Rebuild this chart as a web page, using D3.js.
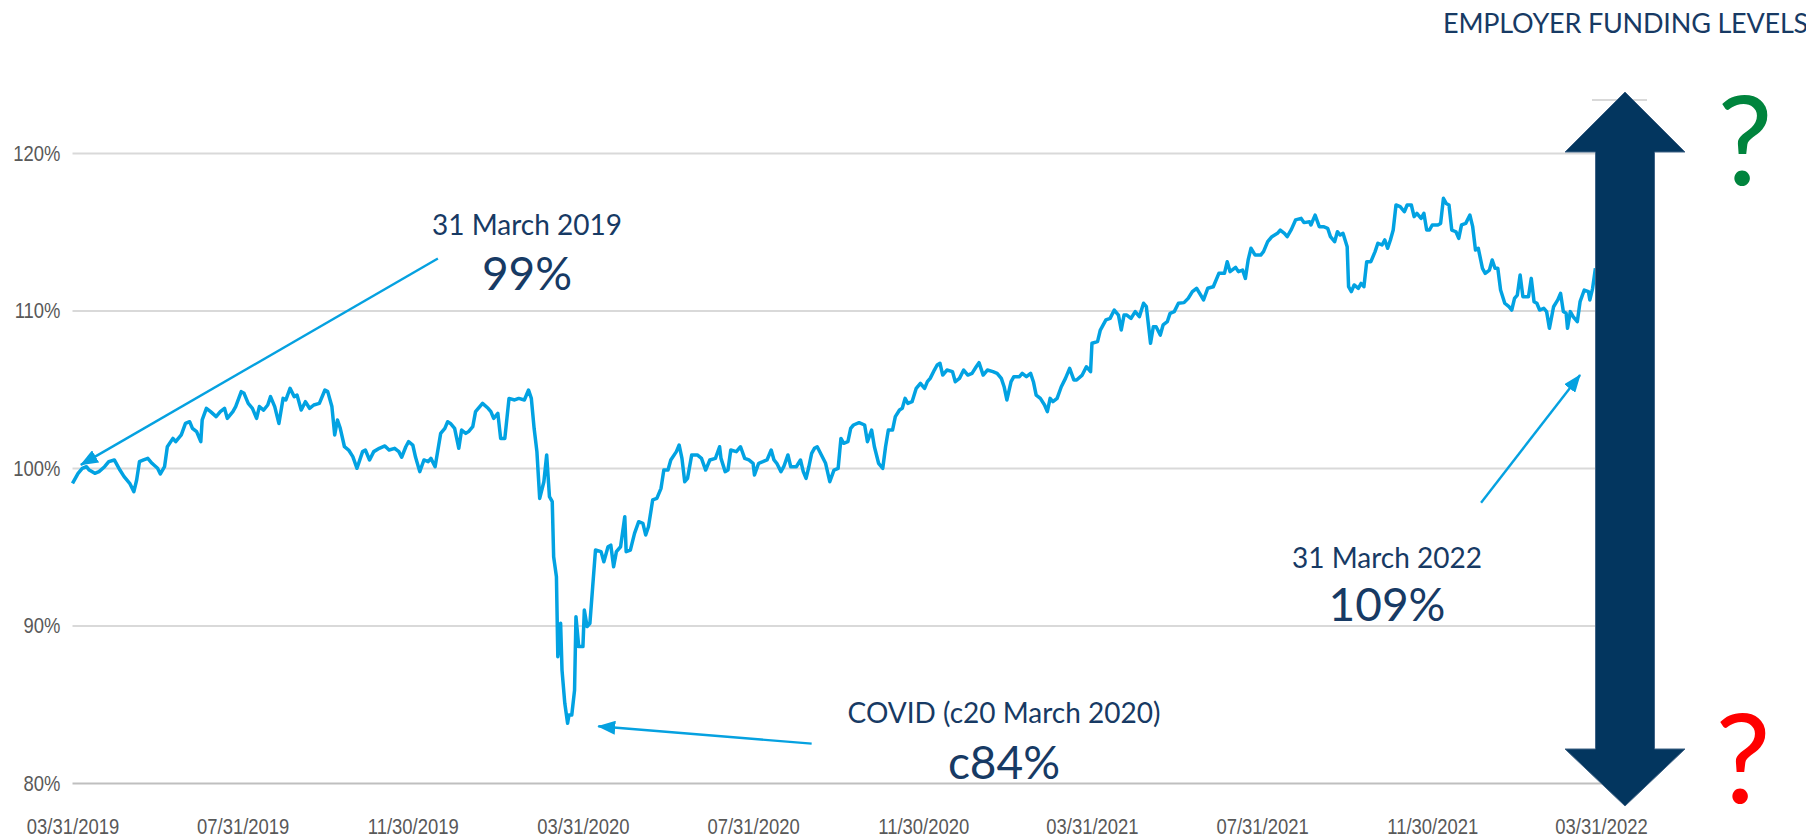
<!DOCTYPE html>
<meta charset="utf-8">
<style>
    body { margin: 0; background: #fff; }
    svg { display: block; }
    .axis text {
        font-family: 'Liberation Sans', Arial, sans-serif;
        font-size: 22.5px;
        fill: #595959;
    }
    .grid line { stroke: #d9d9d9; stroke-width: 2px; }
    .note { font-family: Lato, 'Open Sans', sans-serif; fill: #173a64; }
</style>
<body>
<script src="https://d3js.org/d3.v7.min.js"></script>
<script>
    // days since 31 March 2019
    var dayOffsets = [0,4,7,10,12,16,19,23,26,30,34,37,41,44,46,48,51,54,57,61,63,66,68,72,74,78,81,84,86,89,92,93,96,99,103,106,109,111,115,117,121,123,126,129,132,134,137,140,142,145,148,151,153,156,159,161,164,167,170,173,177,181,183,186,188,190,192,195,198,201,204,208,210,213,216,220,224,227,231,234,236,239,241,244,246,249,252,255,257,260,264,267,269,271,274,277,279,282,284,287,289,
        294,298,300,302,305,307,310,313,317,320,324,327,329,331,333,335,338,340,342,344,345,347,348,350,351,353,355,356,358,360,361,363,366,367,369,371,373,375,379,381,384,386,388,390,393,396,397,400,403,406,409,411,413,416,419,422,424,427,429,433,435,437,439,441,444,448,451,454,457,461,464,
        465,468,470,472,476,479,482,485,488,489,492,495,498,501,503,505,508,510,513,515,519,522,524,526,528,530,532,534,537,540,543,546,549,551,553,556,558,560,564,568,570,573,575,578,581,583,585,588,590,593,595,597,599,602,605,608,611,613,615,618,620,622,624,627,631,633,636,639,642,645,648,650,653,656,660,663,666,668,670,673,675,679,681,684,687,689,691,694,697,699,701,703,706,709,712,715,718,720,724,727,730,731,735,737,741,744,747,750,752,
        754,756,759,762,765,768,770,773,775,777,780,782,785,787,790,793,797,800,803,806,809,811,814,818,822,826,828,830,834,836,839,841,843,845,848,852,854,857,860,864,866,869,871,874,877,881,883,887,888,891,894,897,900,902,905,907,909,911,914,915,917,919,922,924,926,928,931,934,936,939,941,943,945,947,949,952,955,957,960,962,964,967,969,971,973,975,979,981,983,985,987,989,992,994,996,999,1002,1004,1006,1008,1011,1013,1016,1018,1020,1022,1024,1027,1030,1032,1034,1036,1038,1040,1044,1046,1048,1050,1052,1055,1057,1059,1062,1065,1067,1069,1071,1072,1074,1076,1079,1081,1084,1087,1088,1090,1092];

    var fundingLevel = [99.03,99.66,99.98,100.08,99.87,99.66,99.77,100.08,100.4,100.51,99.87,99.45,99.03,98.5,99.24,100.4,100.51,100.61,100.3,99.98,99.62,100.08,101.35,101.88,101.67,102.1,102.83,102.94,102.52,102.31,101.67,103.05,103.79,103.58,103.26,103.58,103.79,103.15,103.58,103.9,104.85,104.74,104.1,103.79,103.15,103.9,103.68,104.0,104.53,103.9,102.83,104.42,104.32,105.06,104.53,104.63,103.68,104.21,103.79,104.0,104.1,104.95,104.85,103.9,102.1,103.05,102.52,101.35,101.14,100.72,99.98,101.04,101.14,100.51,101.04,101.25,101.4,101.14,101.25,101.04,100.68,101.35,101.67,101.46,100.68,99.77,100.51,100.4,100.61,100.08,102.2,102.52,102.94,102.83,102.52,101.25,102.41,102.2,102.31,102.62,103.58,
        104.1,103.79,103.58,103.15,103.47,101.88,101.88,104.42,104.32,104.42,104.32,104.95,104.42,102.52,101.04,98.07,99.13,100.83,98.18,97.86,94.37,93.1,88.02,90.14,87.17,85.06,83.79,84.32,84.32,85.9,90.56,88.66,88.66,90.98,89.93,90.14,92.47,94.79,94.69,94.05,95.0,95.1,93.73,94.69,95.0,96.91,94.69,94.79,95.85,96.59,96.49,95.75,96.27,97.97,98.07,98.71,99.87,99.87,100.51,101.04,101.46,100.61,99.13,99.34,100.83,100.83,100.61,99.87,100.51,100.61,101.35,
        100.61,99.77,99.87,101.14,101.04,101.35,100.61,100.51,100.3,99.56,100.3,100.4,100.51,101.14,100.51,100.3,99.77,100.08,100.83,100.08,100.08,100.51,99.77,99.34,100.08,100.93,101.25,101.35,100.83,100.3,99.13,99.87,99.98,101.88,101.57,101.67,102.52,102.73,102.88,102.73,101.67,102.41,101.35,100.3,99.98,101.35,102.41,102.41,103.26,103.68,103.79,104.42,104.1,104.21,105.06,105.38,105.06,105.48,105.69,106.22,106.54,106.65,105.9,106.22,106.12,105.48,105.69,106.22,105.9,106.01,106.43,106.69,105.9,106.22,106.12,106.01,105.69,105.16,104.32,105.48,105.8,105.8,106.01,105.8,106.01,105.48,104.63,104.42,104.0,103.58,104.42,104.21,104.42,105.16,105.69,106.33,105.59,105.59,105.9,106.43,106.12,107.92,108.02,108.76,109.4,109.5,110.03,109.71,108.76,
        109.71,109.71,109.5,109.93,109.61,110.46,110.24,107.92,108.97,108.97,108.44,109.08,109.29,109.82,109.93,110.46,110.5,110.77,111.2,111.41,110.98,110.67,111.41,111.51,112.36,112.36,113.1,112.47,112.74,112.47,112.57,112.04,113.21,113.95,113.52,113.52,113.74,114.37,114.69,114.9,115.11,114.9,114.69,115.15,115.75,115.85,115.58,115.64,115.43,116.06,115.32,115.32,115.22,114.69,114.37,115.0,114.79,114.9,114.05,111.51,111.2,111.62,111.41,111.72,111.51,113.1,113.1,113.74,114.27,114.16,114.48,113.95,114.48,115.11,116.7,116.59,116.27,116.7,116.7,115.96,116.17,115.85,116.17,115.11,115.11,115.43,115.43,115.53,117.12,116.8,116.7,115.11,115.0,114.58,115.43,115.53,116.06,115.32,113.84,113.95,112.68,112.36,112.57,113.21,112.68,112.68,111.3,110.46,110.24,110.03,110.77,110.98,112.25,110.88,110.88,112.04,110.56,110.46,110.03,110.14,109.93,108.87,110.24,110.67,111.09,109.93,109.82,108.87,109.93,109.61,109.29,110.56,111.3,111.2,110.67,111.41,112.68];

    var yTicks = [80, 90, 100, 110, 120];
    var xTickDates = ["2019-03-31", "2019-07-31", "2019-11-30", "2020-03-31", "2020-07-31",
                      "2020-11-30", "2021-03-31", "2021-07-31", "2021-11-30", "2022-03-31"];

    var noteTitles = ["31 March 2019", "COVID (c20 March 2020)", "31 March 2022"];
    var noteValues = ["99%", "c84%", "109%"];
    // arrow tail / head as [day offset, %]
    var noteFrom = [[262, 113.3], [530, 82.5], [1010, 97.8]];
    var noteTo = [[6, 100.2], [377, 83.6], [1081, 105.9]];

    var width = 1806, height = 840;
    var plotLeft = 72.5, plotRight = 1625, plotTop = 153, plotBottom = 783;
    var narrow = 0.82;
    var start = new Date(Date.UTC(2019, 2, 31));
    var parse = d3.utcParse("%Y-%m-%d");

    var x = d3.scaleUtc()
        .domain([start, parse("2022-03-31")])
        .range([plotLeft, 1601]);
    var y = d3.scaleLinear().domain([80, 120]).range([plotBottom, plotTop]);

    var svg = d3.select("body").append("svg")
        .attr("width", width)
        .attr("height", height);

    // gridlines + y labels
    var yAxis = svg.append("g")
        .attr("class", "axis grid")
        .attr("transform", "translate(" + plotLeft + ",0)")
        .call(d3.axisLeft(y).tickValues(yTicks)
            .tickSize(-(plotRight - plotLeft)).tickPadding(12)
            .tickFormat(function(d) { return d + "%"; }));
    yAxis.select(".domain").remove();
    yAxis.selectAll(".tick line").filter(function(d) { return d === 80; })
        .style("stroke", "#bfbfbf");
    yAxis.selectAll(".tick text")
        .attr("x", -12 / narrow)
        .attr("transform", "scale(" + narrow + ",1)");

    svg.append("line")
        .attr("x1", 1592).attr("x2", 1647)
        .attr("y1", 100).attr("y2", 100)
        .style("stroke", "#d9d9d9").style("stroke-width", 2);

    var xAxis = svg.append("g")
        .attr("class", "axis")
        .attr("transform", "translate(0," + plotBottom + ")")
        .call(d3.axisBottom(x).tickValues(xTickDates.map(parse))
            .tickSize(0).tickPadding(35)
            .tickFormat(d3.utcFormat("%m/%d/%Y")));
    xAxis.select(".domain").remove();
    xAxis.selectAll(".tick text")
        .attr("transform", "scale(" + narrow + ",1)");

    var series = dayOffsets.map(function(d, i) {
        return { date: d3.utcDay.offset(start, d), value: fundingLevel[i] };
    });

    var line = d3.line()
        .x(function(d) { return x(d.date); })
        .y(function(d) { return y(d.value); });

    svg.append("path")
        .datum(series)
        .attr("d", line)
        .style("fill", "none")
        .style("stroke", "#02a2e2")
        .style("stroke-width", 3.5)
        .style("stroke-linejoin", "round");

    // annotation arrows
    svg.append("defs").append("marker")
        .attr("id", "head")
        .attr("markerUnits", "userSpaceOnUse")
        .attr("viewBox", "0 -7 18 14")
        .attr("refX", 17).attr("refY", 0)
        .attr("markerWidth", 18).attr("markerHeight", 14)
        .attr("orient", "auto")
        .append("path")
        .attr("d", "M0,-7L18,0L0,7Z")
        .style("fill", "#05a1e0");

    noteFrom.forEach(function(f, i) {
        var t = noteTo[i];
        svg.append("line")
            .attr("x1", x(d3.utcDay.offset(start, f[0]))).attr("y1", y(f[1]))
            .attr("x2", x(d3.utcDay.offset(start, t[0]))).attr("y2", y(t[1]))
            .attr("marker-end", "url(#head)")
            .style("stroke", "#05a1e0").style("stroke-width", 2.4);
    });

    var noteX = [527, 1004, 1387];
    var noteY1 = [235, 723, 568];
    var noteY2 = [290, 779, 621];
    noteTitles.forEach(function(t, i) {
        svg.append("text").attr("class", "note")
            .attr("x", noteX[i]).attr("y", noteY1[i])
            .attr("text-anchor", "middle")
            .style("font-size", "28px")
            .text(t);
        svg.append("text").attr("class", "note")
            .attr("x", noteX[i]).attr("y", noteY2[i])
            .attr("text-anchor", "middle")
            .style("font-size", "46px")
            .text(noteValues[i]);
    });

    // big double arrow
    var ax = 1625, head = 60, shaft = 29.5;
    var yTop = 92, yTopBase = 152, yBotBase = 749, yBot = 806;
    var pts = [[ax, yTop], [ax + head, yTopBase], [ax + shaft, yTopBase], [ax + shaft, yBotBase],
               [ax + head, yBotBase], [ax, yBot], [ax - head, yBotBase], [ax - shaft, yBotBase],
               [ax - shaft, yTopBase], [ax - head, yTopBase]];
    svg.append("path")
        .attr("d", "M" + pts.join("L") + "Z")
        .style("fill", "#03365f")
        .style("stroke", "#3f6285")
        .style("stroke-width", 1);

    svg.append("text").attr("class", "note")
        .attr("x", 1443).attr("y", 33)
        .style("font-size", "27px")
        .style("letter-spacing", "-0.2px")
        .text("EMPLOYER FUNDING LEVELS");

    svg.append("text")
        .attr("x", 1745).attr("y", 185)
        .attr("text-anchor", "middle")
        .style("font-family", "Lato, 'Open Sans', sans-serif")
        .style("font-size", "124px")
        .style("fill", "#00843d")
        .text("?");
    svg.append("text")
        .attr("x", 1743).attr("y", 803)
        .attr("text-anchor", "middle")
        .style("font-family", "Lato, 'Open Sans', sans-serif")
        .style("font-size", "124px")
        .style("fill", "#ff0000")
        .text("?");
</script>
</body>
